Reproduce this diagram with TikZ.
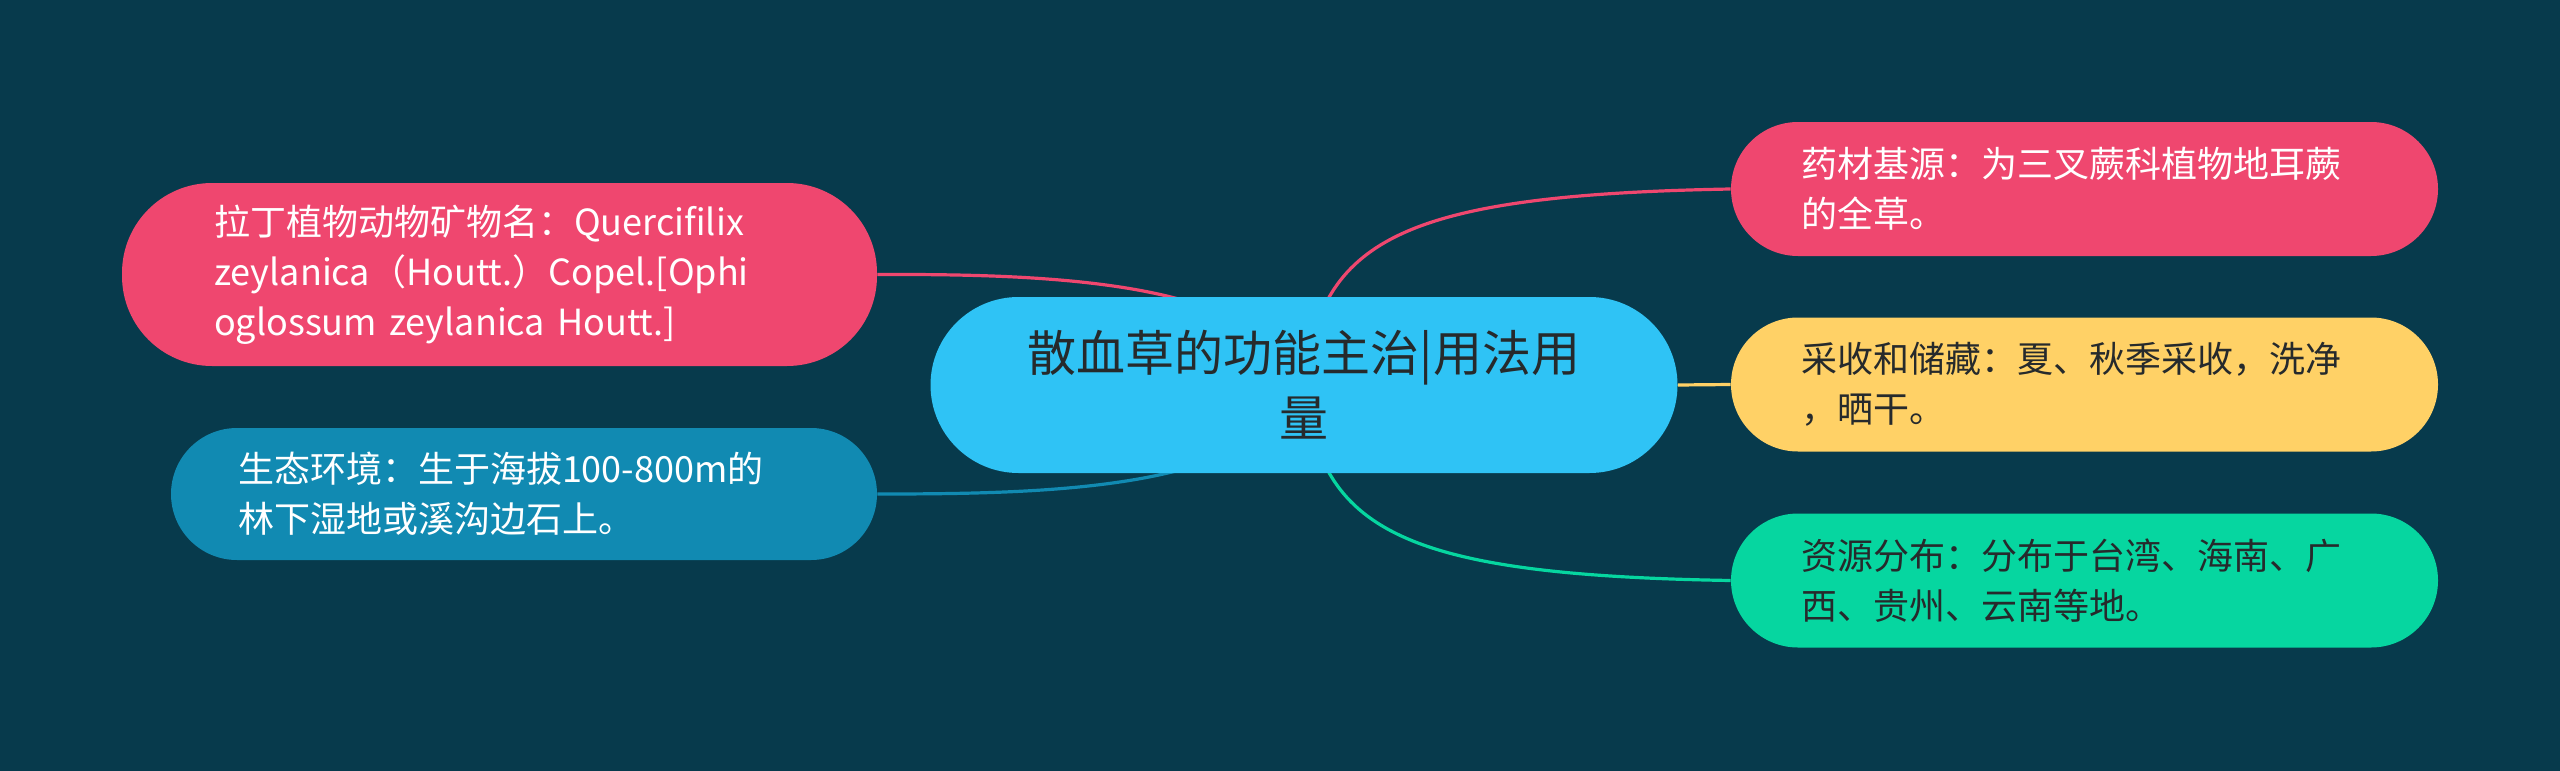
\documentclass[tikz,border=0pt]{standalone}
\usepackage{fontspec}
\setmainfont{Noto Sans CJK SC}
\pgfdeclarelayer{back}
\pgfdeclarelayer{lines}
\pgfsetlayers{back,lines,main}
\definecolor{bgdark}{HTML}{073A4C}
\definecolor{rootblue}{HTML}{2FC3F5}
\definecolor{leafpink}{HTML}{EF476F}
\definecolor{leafblue}{HTML}{118AB2}
\definecolor{leafyellow}{HTML}{FFD166}
\definecolor{leafgreen}{HTML}{06D6A0}
\definecolor{inkdark}{HTML}{262A2C}
\begin{document}
\begin{tikzpicture}
        [x=0.5pt,y=-0.5pt,
         leaf/.style={rectangle,align=left,inner ysep=0pt,
           font=\fontsize{18pt}{25pt}\selectfont},
         rootbox/.style={rectangle,align=center,fill=rootblue,text=inkdark,
           minimum width=373.5pt,minimum height=88pt,rounded corners=44pt,
           font=\fontsize{24.5pt}{32.5pt}\selectfont},
         link/.style={line width=1.6pt}]
        \useasboundingbox (0,0) rectangle (2560,771);
        \begin{pgfonlayer}{back}
          \fill[bgdark] (0,0) rectangle (2560,771);
        \end{pgfonlayer}

        \node[rootbox] (root) at (1304,385) {散血草的功能主治|用法用\\量};

        \node[leaf,fill=leafpink,text=white,minimum width=377.5pt,minimum height=91.5pt,
          rounded corners=45pt,inner xsep=46pt,text width=285.5pt] (latin) at (499.5,274.5)
          {拉丁植物动物矿物名：Quercifilix\\zeylanica（Houtt.）Copel.[Ophi\\oglossum zeylanica Houtt.]};
        \node[leaf,fill=leafblue,text=white,minimum width=353pt,minimum height=66pt,
          rounded corners=33pt,inner xsep=33.5pt,text width=286pt] (habitat) at (524,494)
          {生态环境：生于海拔100-800m的\\林下湿地或溪沟边石上。};

        \node[leaf,fill=leafpink,text=white,minimum width=353.5pt,minimum height=67pt,
          rounded corners=33.5pt,inner xsep=35pt,text width=283.5pt] (source) at (2084.5,189)
          {药材基源：为三叉蕨科植物地耳蕨\\的全草。};
        \node[leaf,fill=leafyellow,text=inkdark,minimum width=353.5pt,minimum height=67pt,
          rounded corners=33.5pt,inner xsep=35pt,text width=283.5pt] (harvest) at (2084.5,384.5)
          {采收和储藏：夏、秋季采收，洗净\\，晒干。};
        \node[leaf,fill=leafgreen,text=inkdark,minimum width=353.5pt,minimum height=67pt,
          rounded corners=33.5pt,inner xsep=35pt,text width=283.5pt] (range) at (2084.5,580.5)
          {资源分布：分布于台湾、海南、广\\西、贵州、云南等地。};

        \begin{pgfonlayer}{lines}
          \draw[link,leafpink] (latin.east) .. controls (1050,274) and (1260,280) .. (root.center);
          \draw[link,leafblue] (habitat.east) .. controls (1050,494) and (1260,490) .. (root.center);
          \draw[link,leafpink] (root.center) .. controls (1320,240) and (1400,195) .. (source.west);
          \draw[link,leafyellow] (root.east) -- (harvest.west);
          \draw[link,leafgreen] (root.center) .. controls (1320,530) and (1400,575) .. (range.west);
        \end{pgfonlayer}
      \end{tikzpicture}
\end{document}
